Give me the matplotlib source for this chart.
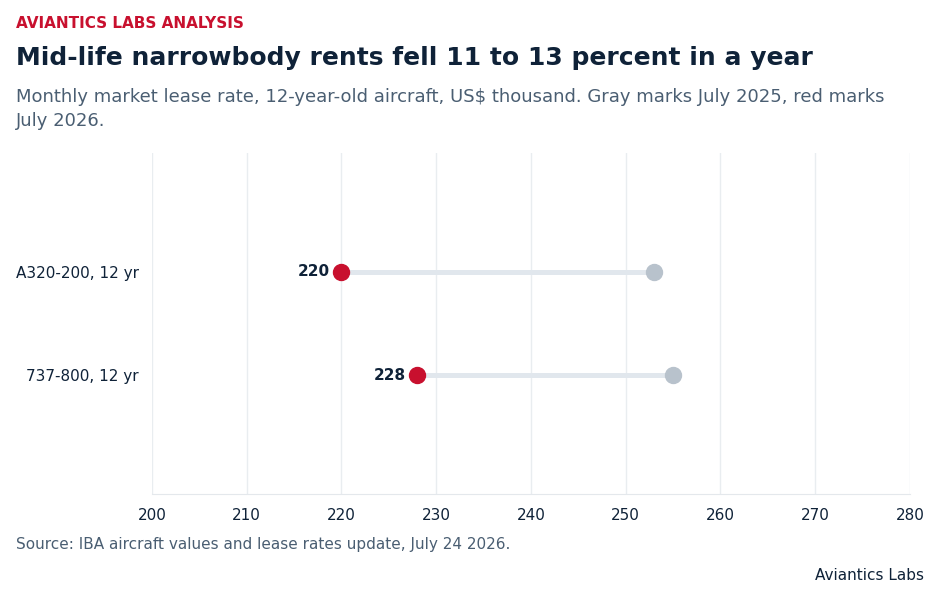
import matplotlib
matplotlib.use("Agg")
import matplotlib.pyplot as plt

# data
aircraft = ["A320-200, 12 yr", "737-800, 12 yr"]
rate_2025 = [253, 255]
rate_2026 = [220, 228]
xticks = [200, 210, 220, 230, 240, 250, 260, 270, 280]

RED = "#c8102e"
GRAY = "#b8c2cc"
LINE = "#e1e7ed"
DARK = "#0f2238"
MUTED = "#4a5e72"

plt.rcParams["font.family"] = ["DejaVu Sans"]

fig = plt.figure(figsize=(9.4, 6), dpi=100)
ax = fig.add_axes([0.1617, 0.1767, 0.8063, 0.5683])

ypos = list(range(len(aircraft)))
for y, a, b in zip(ypos, rate_2025, rate_2026):
    ax.plot([b, a], [y, y], color=LINE, lw=3.6, solid_capstyle="butt", zorder=2)
    ax.plot(a, y, "o", color=GRAY, ms=11.5, zorder=3)
    ax.plot(b, y, "o", color=RED, ms=11.5, zorder=4)
    ax.annotate(str(b), (b, y), xytext=(-8.5, 0), textcoords="offset points",
                ha="right", va="center", fontsize=11, fontweight="bold", color=DARK)

ax.set_xlim(200, 280)
ax.set_ylim(2.14, -1.14)
ax.set_xticks(xticks)
ax.set_yticks(ypos)
ax.set_yticklabels(aircraft)
ax.tick_params(axis="both", length=0, labelsize=11, colors=DARK)
ax.tick_params(axis="x", pad=10)
ax.tick_params(axis="y", pad=9.5)
ax.grid(axis="x", color="#e9edf0", lw=1)
ax.set_axisbelow(True)
for s in ["top", "right", "left"]:
    ax.spines[s].set_visible(False)
ax.spines["bottom"].set_color("#e4e8ec")

fig.text(16/940, 1-23/600, "AVIANTICS LABS ANALYSIS", color=RED, fontsize=11,
         fontweight="bold", va="center")
fig.text(16/940, 1-58/600, "Mid-life narrowbody rents fell 11 to 13 percent in a year",
         color=DARK, fontsize=18, fontweight="bold", va="center")
fig.text(16/940, 1-88/600,
         "Monthly market lease rate, 12-year-old aircraft, US$ thousand. Gray marks July 2025, red marks\nJuly 2026.",
         color=MUTED, fontsize=13, va="top", linespacing=1.4)
fig.text(16/940, 1-545/600, "Source: IBA aircraft values and lease rates update, July 24 2026.",
         color=MUTED, fontsize=11, va="center")
fig.text(924/940, 1-576/600, "Aviantics Labs", color=DARK, fontsize=11,
         ha="right", va="center")

fig.savefig("out.png", dpi=100)
